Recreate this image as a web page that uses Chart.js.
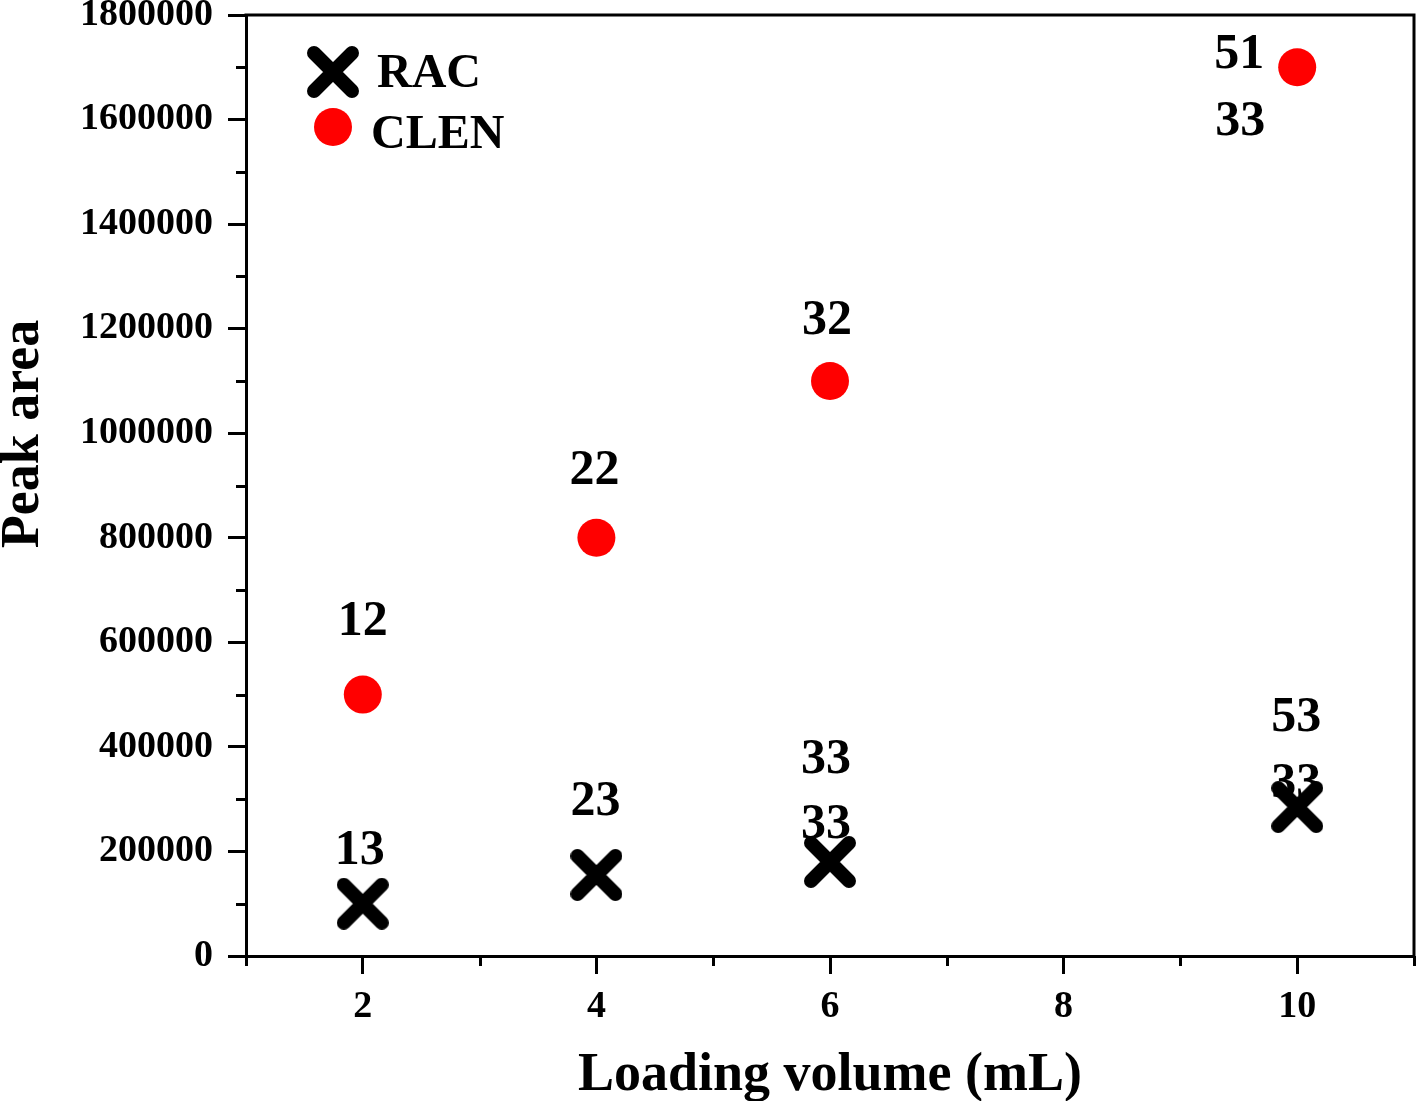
<!DOCTYPE html>
<html>
<head>
<meta charset="utf-8">
<script src="https://cdn.jsdelivr.net/npm/chart.js@4.4.1/dist/chart.umd.min.js"></script>
<style>
  html, body { margin: 0; padding: 0; background: #ffffff; }
  #wrap { width: 1418px; height: 1101px; position: relative; }
</style>
</head>
<body>
<div id="wrap"><canvas id="c" width="1418" height="1101"></canvas></div>
<script>
// ---------- data ----------
const seriesNames = ["RAC", "CLEN"];
const loadingVolume = [2, 4, 6, 10];
const racPeakArea  = [100000, 155000, 180000, 285000];
const clenPeakArea = [500000, 800000, 1100000, 1700000];
const racNotes  = [["13"], ["23"], ["33", "33"], ["53", "33"]];
const clenNotes = [["12"], ["22"], ["32"], ["51", "33"]];
const xTickValues = [2, 4, 6, 8, 10];
const xMinorValues = [1, 3, 5, 7, 9, 11];
const yMinorValues = [100000, 300000, 500000, 700000, 900000, 1100000, 1300000, 1500000, 1700000];
const xTitle = "Loading volume (mL)";
const yTitle = "Peak area";

// ---------- style (offsets of annotation text from its point, px) ----------
const racNoteOffsets  = [[[-3, -40]], [[-1, -60]], [[-4, -89], [-4, -24]], [[-1, -76], [-1, -10]]];
const clenNoteOffsets = [[[0, -60]], [[-2, -54]], [[-3, -47]], [[-58, 1], [-57, 68]]];
const FONT = "'Liberation Serif', 'Times New Roman', serif";

// X marker image
function makeCross(size, lw) {
  const cv = document.createElement('canvas');
  cv.width = size; cv.height = size;
  const g = cv.getContext('2d');
  const a = lw / 2, b = size - lw / 2;
  g.strokeStyle = '#000'; g.lineWidth = lw; g.lineCap = 'round';
  g.beginPath();
  g.moveTo(a, a); g.lineTo(b, b);
  g.moveTo(b, a); g.lineTo(a, b);
  g.stroke();
  return cv;
}
const crossImg = makeCross(52, 14);

const notesPlugin = {
  id: 'notes',
  afterDatasetsDraw(chart) {
    const ctx = chart.ctx;
    const sets = [[racNotes, racNoteOffsets], [clenNotes, clenNoteOffsets]];
    ctx.save();
    ctx.fillStyle = '#000';
    ctx.font = `bold 50px ${FONT}`;
    ctx.textAlign = 'center';
    ctx.textBaseline = 'alphabetic';
    sets.forEach(([notes, offs], di) => {
      const meta = chart.getDatasetMeta(di);
      meta.data.forEach((pt, j) => {
        (notes[j] || []).forEach((txt, k) => {
          const o = offs[j][k];
          ctx.fillText(txt, pt.x + o[0], pt.y + o[1]);
        });
      });
    });
    ctx.restore();
  }
};

const framePlugin = {
  id: 'frame',
  afterDraw(chart) {
    const ctx = chart.ctx;
    const a = chart.chartArea;
    const xs = chart.scales.x, ys = chart.scales.y;
    ctx.save();
    ctx.strokeStyle = '#000';
    ctx.lineWidth = 3;
    ctx.lineCap = 'square';
    ctx.beginPath();
    ctx.moveTo(a.left, a.top);
    ctx.lineTo(a.right, a.top);
    ctx.lineTo(a.right, a.bottom);
    ctx.stroke();
    // minor ticks
    ctx.lineCap = 'butt';
    ctx.beginPath();
    yMinorValues.forEach(v => {
      const y = Math.round(ys.getPixelForValue(v)) + 0.5;
      ctx.moveTo(a.left, y); ctx.lineTo(a.left - 10, y);
    });
    xMinorValues.forEach(v => {
      const x = Math.round(xs.getPixelForValue(v)) + 0.5;
      ctx.moveTo(x, a.bottom); ctx.lineTo(x, a.bottom + 10);
    });
    ctx.stroke();

    // legend
    const lx = a.left + 87, ly1 = a.top + 57, ly2 = a.top + 112;
    ctx.drawImage(crossImg, lx - 26, ly1 - 26);
    ctx.fillStyle = '#ff0000';
    ctx.beginPath(); ctx.arc(lx, ly2, 19, 0, Math.PI * 2); ctx.fill();
    ctx.fillStyle = '#000';
    ctx.font = `bold 48px ${FONT}`;
    ctx.textAlign = 'left';
    ctx.textBaseline = 'alphabetic';
    ctx.fillText(seriesNames[0], lx + 44, ly1 + 15);
    ctx.fillText(seriesNames[1], lx + 38, ly2 + 21);

    // axis titles
    ctx.font = `bold 54px ${FONT}`;
    ctx.textAlign = 'center';
    ctx.fillText(xTitle, (a.left + a.right) / 2, 1090);
    ctx.save();
    ctx.translate(38, 434);
    ctx.rotate(-Math.PI / 2);
    ctx.fillText(yTitle, 0, 0);
    ctx.restore();
    ctx.restore();
  }
};

const ctx = document.getElementById('c').getContext('2d');
new Chart(ctx, {
  type: 'scatter',
  data: {
    datasets: [
      {
        label: seriesNames[0],
        data: loadingVolume.map((x, i) => ({ x, y: racPeakArea[i] })),
        pointStyle: crossImg,
        pointRadius: 26,
        pointHoverRadius: 26,
        clip: false
      },
      {
        label: seriesNames[1],
        data: loadingVolume.map((x, i) => ({ x, y: clenPeakArea[i] })),
        pointStyle: 'circle',
        pointRadius: 19,
        pointHoverRadius: 19,
        backgroundColor: '#ff0000',
        borderColor: '#ff0000',
        borderWidth: 0,
        clip: false
      }
    ]
  },
  options: {
    responsive: false,
    animation: false,
    devicePixelRatio: 1,
    layout: { autoPadding: false, padding: { top: 15, right: 4, left: 0, bottom: 0 } },
    plugins: { legend: { display: false }, tooltip: { enabled: false } },
    scales: {
      x: {
        type: 'linear',
        min: 1, max: 11,
        afterBuildTicks(s) { s.ticks = xTickValues.map(v => ({ value: v })); },
        afterFit(s) { s.height = 145; s.paddingLeft = 0; s.paddingRight = 0; },
        grid: { drawOnChartArea: false, tickLength: 18, tickWidth: 3, tickColor: '#000' },
        border: { display: true, color: '#000', width: 3 },
        ticks: { color: '#000', padding: 10, maxRotation: 0, font: { family: FONT, size: 38, weight: 'bold' } }
      },
      y: {
        type: 'linear',
        min: 0, max: 1800000,
        ticks: {
          stepSize: 200000,
          color: '#000', padding: 15,
          font: { family: FONT, size: 38, weight: 'bold' },
          callback: v => String(v)
        },
        afterFit(s) { s.width = 246; s.paddingTop = 0; s.paddingBottom = 0; },
        grid: { drawOnChartArea: false, tickLength: 18, tickWidth: 3, tickColor: '#000' },
        border: { display: true, color: '#000', width: 3 }
      }
    }
  },
  plugins: [notesPlugin, framePlugin]
});
</script>
</body>
</html>
